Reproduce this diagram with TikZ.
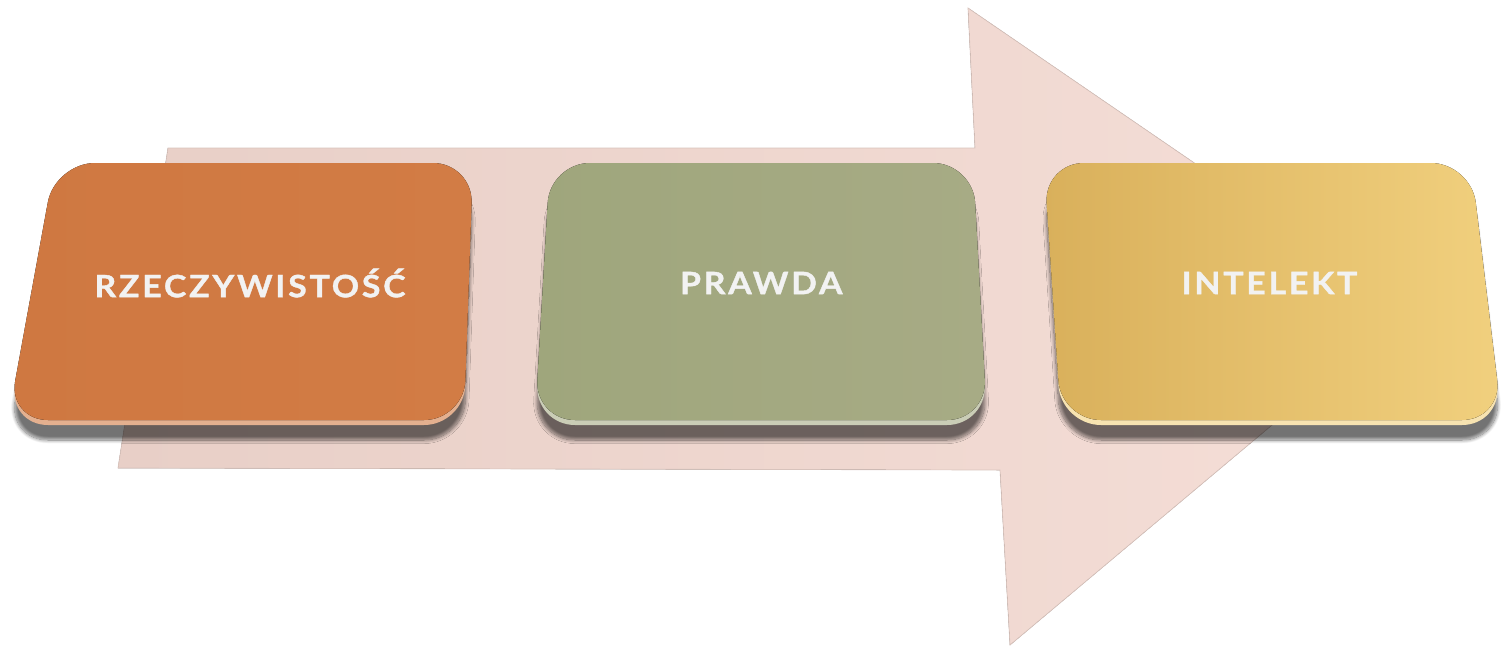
\documentclass[tikz,border=0pt]{standalone}
\usepackage{fontspec}
\setmainfont{Lato}
\newfontfamily\cardfont[LetterSpace=9,FakeStretch=1.1,FakeBold=1.2]{Lato}
\usetikzlibrary{shadows.blur}

\definecolor{arrowpink}{HTML}{F5DED7}
\definecolor{arrowshade}{HTML}{E8CFC7}
\definecolor{orangeA}{HTML}{CF7841}
\definecolor{orangeB}{HTML}{D27C45}
\definecolor{greenA}{HTML}{9FA67C}
\definecolor{greenB}{HTML}{A7AB85}
\definecolor{yellowA}{HTML}{D9B05B}
\definecolor{yellowB}{HTML}{F1D07E}
\definecolor{labelwhite}{HTML}{F2F2F2}

\begin{document}
\begin{tikzpicture}[x=0.2mm,y=-0.2mm,
  card/.style={rounded corners=8mm},
  cardlabel/.style={text=labelwhite,font=\cardfont\bfseries\fontsize{17.5}{20}\selectfont}]
\useasboundingbox (0,0) rectangle (1504,650);
% the big arrow behind
\fill[left color=arrowshade,right color=arrowpink,draw=arrowshade!85!gray,line width=0.4pt]
  (168,148) -- (975,148) -- (968,8) -- (1409,310) -- (1010,645) -- (1000,470) -- (118,468) -- cycle;
% the three cards
\foreach \tl/\tr/\br/\bl/\ca/\cb/\name/\txt in {
  55/473/464/8/orangeA/orangeB/real/RZECZYWISTOŚĆ,
  550/973/987/535/greenA/greenB/truth/PRAWDA,
  1044/1471/1502/1061/yellowA/yellowB/mind/INTELEKT}{
  \fill[card,\cb!60!white,
    blur shadow={shadow xshift=0mm,shadow yshift=-3mm,shadow blur steps=12,shadow opacity=55}]
    (\tl,167) -- (\tr,167) -- (\br,425) -- (\bl,425) -- cycle;
  \fill[card,left color=\ca,right color=\cb]
    (\tl,163) -- (\tr,163) -- (\br,420) -- (\bl,420) -- cycle;
  \node[cardlabel] (\name) at ({(\tl+\tr+\br+\bl)/4},283) {\txt};
}
\end{tikzpicture}
\end{document}
